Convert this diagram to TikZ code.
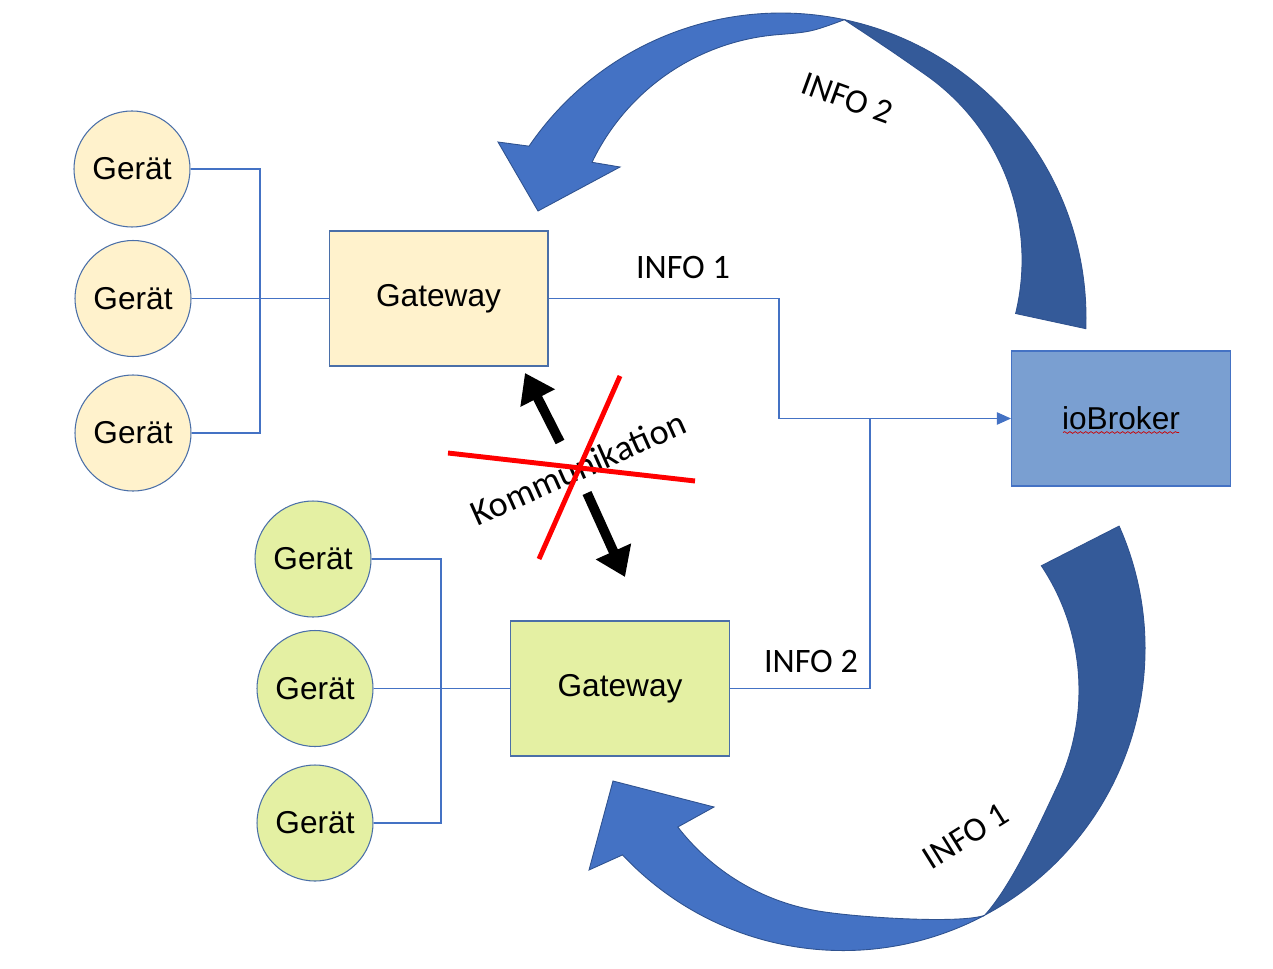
\documentclass[tikz,border=0pt]{standalone}
\usepackage{fontspec}
\setmainfont{Liberation Sans}
\newfontfamily\calibri{Carlito}
\usepackage{xcolor}
\usetikzlibrary{arrows.meta,decorations.pathmorphing}

\definecolor{lineblue}{HTML}{4472C4}
\definecolor{edgeblue}{HTML}{4A6FA8}
\definecolor{arrowlight}{HTML}{4472C4}
\definecolor{arrowdark}{HTML}{345A99}
\definecolor{arrowedge}{HTML}{2F528F}
\definecolor{paleyellow}{HTML}{FFF2CC}
\definecolor{palegreen}{HTML}{E4F0A3}
\definecolor{brokerblue}{HTML}{7A9FD1}

\begin{document}
\begin{tikzpicture}[x=0.02cm, y=-0.02cm,
    geraet/.style={circle, draw=edgeblue, line width=0.6pt, minimum size=2.32cm, inner sep=0pt, font=\fontsize{18}{21}\selectfont},
    gatebox/.style={rectangle, draw=edgeblue, line width=0.6pt, minimum width=4.38cm, minimum height=2.7cm, font=\fontsize{18}{21}\selectfont},
    bus/.style={lineblue, line width=0.7pt},
    info/.style={font=\calibri\fontsize{19.5}{22}\selectfont},
    bigarrow/.style={-{Triangle[length=16pt,width=21pt]}, line width=5.5pt},
    band/.style={draw=arrowedge, line width=0.5pt}]
        \useasboundingbox (0,0) rectangle (1273,969);
        % curved arrow top (INFO 2)
        \filldraw[band, fill=arrowdark] (844.4,19.7) arc[start angle=-78, end angle=2, radius=305]
            -- (1015.6,313.5) arc[start angle=13.7, end angle=-55, radius=226]
            .. controls (893,52) .. (844.4,19.7) -- cycle;
        \filldraw[band, fill=arrowlight] (498,142) -- (538,211) -- (620,167)
            -- (592,162.3) arc[start angle=-154.4, end angle=-95, radius=226]
            .. controls (811,32) .. (844.4,19.7)
            arc[start angle=-78, end angle=-145.7, radius=305] -- cycle;
        % curved arrow bottom (INFO 1)
        \filldraw[band, fill=arrowdark] (1119.1,526.1) arc[start angle=-23.9, end angle=62, radius=302]
            .. controls (1012,885) and (1041,821) .. (1058,784.7)
            arc[start angle=25, end angle=-33.7, radius=224] -- cycle;
        \filldraw[band, fill=arrowlight] (589,870) -- (613,781) -- (714,807)
            -- (677.8,827) arc[start angle=142.3, end angle=100, radius=224]
            .. controls (855.4,917.6) and (962,924) .. (984.8,915.2)
            arc[start angle=62, end angle=136.9, radius=302] -- cycle;
        \node[info, rotate=-20] (info2top) at (847,98) {INFO 2};
        \node[info, rotate=32] (info1bot) at (966,836) {INFO 1};
        % Geraete + Gateway oben
        \node[geraet, fill=paleyellow] (ga1) at (132,169) {Gerät};
        \node[geraet, fill=paleyellow] (ga2) at (133,298.5) {Gerät};
        \node[geraet, fill=paleyellow] (ga3) at (133,433) {Gerät};
        \node[gatebox, fill=paleyellow] (gwa) at (438.5,298.5) {\raisebox{-3pt}{Gateway}};
        \coordinate (busa) at (260,298.5);
        \draw[bus] (ga1.east) -| (busa) |- (ga3.east);
        \draw[bus] (ga2.east) -- (gwa.west);
        % Geraete + Gateway unten
        \node[geraet, fill=palegreen] (gb1) at (313,559) {Gerät};
        \node[geraet, fill=palegreen] (gb2) at (315,688.5) {Gerät};
        \node[geraet, fill=palegreen] (gb3) at (315,823) {Gerät};
        \node[gatebox, fill=palegreen] (gwb) at (620,688.5) {\raisebox{-3pt}{Gateway}};
        \coordinate (busb) at (441,688.5);
        \draw[bus] (gb1.east) -| (busb) |- (gb3.east);
        \draw[bus] (gb2.east) -- (gwb.west);
        % ioBroker
        \node[gatebox, fill=brokerblue, draw=lineblue] (broker) at (1121,418.5) {ioBroker};
        \draw[red!80!black, line width=0.4pt, decorate, decoration={snake, amplitude=0.5pt, segment length=3pt}]
            ([shift={(-58,14)}]broker.center) -- ([shift={(58,14)}]broker.center);
        \coordinate (knica) at (779,418.5);
        \coordinate (knicb) at (870,418.5);
        \draw[bus, -{Triangle[length=8pt,width=7pt]}] (gwa.east) -| (knica) -- (broker.west);
        \draw[bus] (gwb.east) -| (knicb);
        \node[info] (info1) at (683,268) {INFO 1};
        \node[info] (info2) at (811,661) {INFO 2};
        % Kommunikation
        \node[info, font=\calibri\fontsize{20.5}{23}\selectfont, rotate=24] (komm) at (578,468) {Kommunikation};
        \draw[bigarrow] (560,442) -- (525,373);
        \draw[bigarrow] (587,493) -- (625,577);
        \draw[red, line width=2.8pt] (448,453) -- (695,481);
        \draw[red, line width=2.8pt] (620,376) -- (539,559);
\end{tikzpicture}
\end{document}
